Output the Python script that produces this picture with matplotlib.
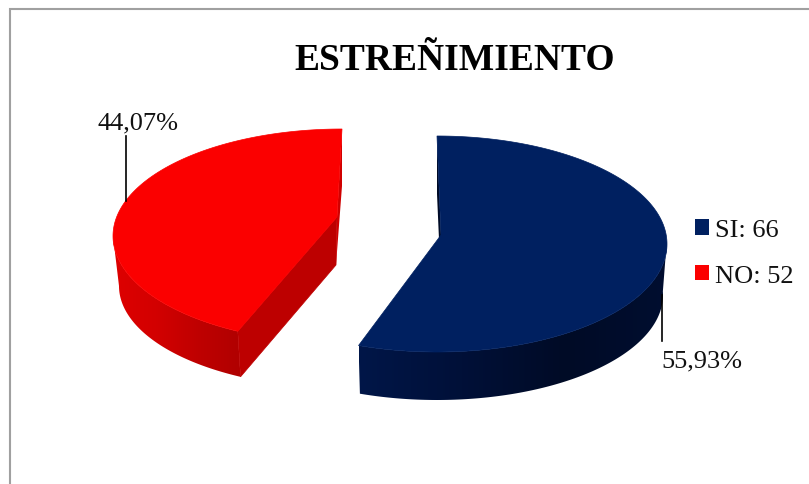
import numpy as np
import matplotlib
matplotlib.use("Agg")
import matplotlib.pyplot as plt
from matplotlib.colors import LinearSegmentedColormap
from matplotlib.patches import Patch, Polygon

# Survey counts
categories = ["SI", "NO"]
counts = [66, 52]
chart_title = "ESTREÑIMIENTO"

plt.rcParams["font.family"] = ["Liberation Serif", "DejaVu Serif"]

fig = plt.figure(figsize=(8.09, 4.85), dpi=100)
ax = fig.add_axes([0, 0, 1, 1])
ax.axis("off")

total = sum(counts)
shares = [c / total for c in counts]
sweeps = [s * 360 for s in shares]


def rim(theta, g):
    """Upper and lower rim points of a tilted pie for clockwise angles from 12 o'clock."""
    t = np.radians(theta)
    top = np.column_stack([g["cx"] + g["a"] * np.sin(t), g["cy"] - g["b"] * np.cos(t)])
    low = np.column_stack([g["cx"] + g["a2"] * np.sin(t), g["cy2"] - g["b2"] * np.cos(t)])
    return top, low


def draw_wall(theta, g, cmap, zorder):
    """Fill the curved outer wall with a left-to-right shading gradient."""
    top, low = rim(theta, g)
    outline = np.vstack([top, low[::-1]])
    x0, x1 = outline[:, 0].min(), outline[:, 0].max()
    y0, y1 = outline[:, 1].min(), outline[:, 1].max()
    shade = np.linspace(0, 1, 256)[None, :]
    img = ax.imshow(shade, cmap=cmap, extent=[x0, x1, y1, y0], aspect="auto",
                    interpolation="bilinear", zorder=zorder)
    clip = Polygon(outline, closed=True, transform=ax.transData, fc="none", ec="none")
    ax.add_patch(clip)
    img.set_clip_path(clip)


# Perspective geometry of the two exploded slices
blue = dict(cx=437, cy=245, a=230, b=108, a2=226, cy2=296, b2=105,
            apex=(441, 236), apex_low=(441, 286), warp=0.993)
red = dict(cx=342, cy=237, a=229, b=107, a2=223, cy2=287, b2=102,
           apex=(337, 218), apex_low=(336, 266), warp=0.964)

blue_wall = LinearSegmentedColormap.from_list("bw", ["#001648", "#001038", "#000b26", "#000e30"])
red_wall = LinearSegmentedColormap.from_list("rw", ["#de0000", "#d30000", "#bf0000", "#b00000"])

# First slice runs clockwise from 12 o'clock
blue_end = sweeps[0] * blue["warp"]
theta_blue = np.linspace(0, blue_end, 200)
top_blue, _ = rim(theta_blue, blue)
draw_wall(np.linspace(88, blue_end, 120), blue, blue_wall, 2)
ax.add_patch(Polygon([top_blue[0], (blue["cx"], blue["cy"] - 50), blue["apex_low"], blue["apex"]],
                     closed=True, fc="#000b26", ec="none", zorder=1))
ax.add_patch(Polygon(np.vstack([top_blue, [blue["apex"]]]), closed=True,
                     fc="#002060", ec="#002060", lw=0.5, zorder=3))

# Second slice closes the circle back at 12 o'clock
red_start = 360 - sweeps[1] * red["warp"]
theta_red = np.linspace(red_start, 360, 200)
top_red, _ = rim(theta_red, red)
draw_wall(np.linspace(red_start, 270, 120), red, red_wall, 2)
tip_top, tip_low = rim(np.array([red_start]), red)
ax.add_patch(Polygon([tip_top[0], tip_low[0], red["apex_low"], red["apex"]],
                     closed=True, fc="#bd0000", ec="#bd0000", lw=0.5, zorder=2))
ax.add_patch(Polygon([top_red[-1], (red["cx"], red["cy"] - 50), red["apex_low"], red["apex"]],
                     closed=True, fc="#d00000", ec="none", zorder=2))
ax.add_patch(Polygon(np.vstack([top_red, [red["apex"]]]), closed=True,
                     fc="#fb0000", ec="#fb0000", lw=0.5, zorder=3))

# Percentage labels with leader lines
fmt = lambda s: f"{s * 100:.2f}%".replace(".", ",")
ax.plot([126, 126], [137, 202], color="#000000", lw=1.2, zorder=4)
ax.plot([662, 662], [296, 342], color="#000000", lw=1.2, zorder=4)
ax.text(138, 123.5, fmt(shares[1]), fontsize=19, color="#111111", ha="center", va="center")
ax.text(702, 361.5, fmt(shares[0]), fontsize=19, color="#111111", ha="center", va="center")

ax.text(455, 60, chart_title, fontsize=27, fontweight="bold", color="black", ha="center", va="center")

# Outer chart frame, open on the right and bottom
ax.plot([10, 10, 809], [485, 10, 10], color="#a0a0a0", lw=1.5, solid_joinstyle="miter", zorder=1)

ax.set_xlim(0, 809)
ax.set_ylim(485, 0)

handles = [Patch(fc="#002060", ec="none"), Patch(fc="#fb0000", ec="none")]
labels = [f"{c}: {v}" for c, v in zip(categories, counts)]
ax.legend(handles, labels, loc="upper left", bbox_to_anchor=(695, 220), bbox_transform=ax.transData,
          frameon=False, fontsize=19, borderpad=0, borderaxespad=0, handlelength=0.53, handleheight=0.53,
          handletextpad=0.23, labelspacing=0.9, labelcolor="#111111")

fig.savefig("out.png", dpi=100)
